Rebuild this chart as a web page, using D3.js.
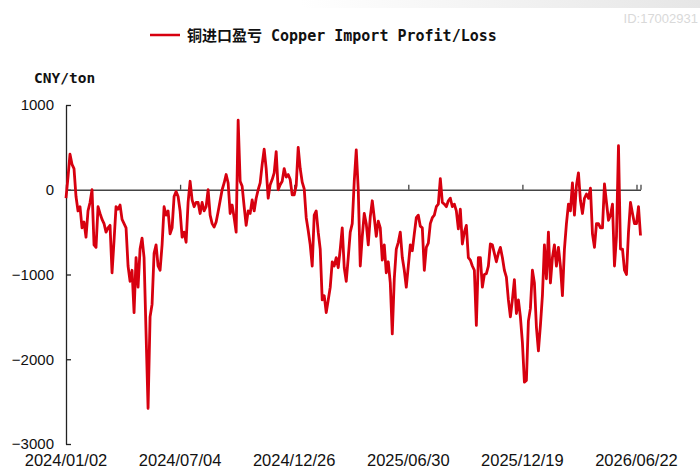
<!DOCTYPE html>
<html>
<head>
<meta charset="utf-8">
<script src="https://cdn.jsdelivr.net/npm/d3@7"></script>
<style>
  body { margin: 0; background: #fff; }
  .tick text { font-family: "Liberation Sans", Arial, sans-serif; fill: #111; }
</style>
</head>
<body>
<div class="chart"></div>
<script>
// series label and unit
var seriesName = "铜进口盈亏 Copper Import Profit/Loss";
var unitLabel = "CNY/ton";

// x tick labels (one every 57 points)
var xLabels = ["2024/01/02", "2024/07/04", "2024/12/26", "2025/06/30", "2025/12/19", "2026/06/22"];
var labelStep = 57;

var yTicks = [-3000, -2000, -1000, 0, 1000];

// copper import profit/loss, CNY/ton
var values = [
  -100, 150, 420, 300, 250, -80, -250, -200, -450, -380,
  -560, -250, -150, 0, -650, -680, -200, -280, -350, -400,
  -500, -450, -420, -980, -600, -200, -230, -180, -350, -400,
  -450, -900, -1080, -950, -1450, -800, -1150, -700, -570, -800,
  -1700, -2580, -1500, -1350, -750, -650, -900, -950, -650, -200,
  -300, -250, -520, -450, -80, -20, -80, -250, -560, -500,
  -620, -150, 100, -120, -200, -150, -150, -280, -150, -250,
  -200, 0, -300, -400, -440, -380, -260, -130, 0, 80,
  180, 80, -280, -180, -330, -500, 820, 100, 40, -200,
  -420, -250, -280, -120, -250, -100, 0, 80, 300, 480,
  250, -100, 60, 120, 200, 450, 0, 60, 100, 250,
  150, 180, 120, -60, -60, 50, 500, 250, 90, 10,
  -330, -480, -650, -900, -300, -250, -500, -700, -1300, -1250,
  -1450, -1300, -1150, -850, -900, -800, -920, -700, -450, -920,
  -1080, -800, -500, -400, 100, 470, 0, -900, -550, -280,
  -400, -650, -320, -130, -330, -550, -370, -450, -830, -650,
  -980, -850, -1100, -1700, -1050, -700, -620, -500, -800, -950,
  -1150, -900, -650, -720, -520, -330, -300, -430, -450, -950,
  -680, -630, -400, -330, -300, -200, -170, 130, -150, -170,
  -200, -130, -100, -200, -170, -250, -460, -230, -640, -500,
  -420, -800, -830, -900, -950, -1600, -800, -800, -1150, -1000,
  -990, -900, -640, -650, -750, -850, -750, -680, -800, -950,
  -1030, -1300, -1500, -1300, -1060, -1460, -1300, -1500, -1800, -2270,
  -2250, -1550, -1400, -950, -1100, -1620, -1900, -1600, -1250, -650,
  -1050, -500, -1100, -800, -650, -900, -680, -900, -1250, -700,
  -400, -170, -250, 80, -300, 50, 200, -130, -280, -100,
  -50, -100, 20, -520, -680, -400, -400, -450, -450, 70,
  -150, -360, -300, -170, -900, -550, 520, -700, -700, -950,
  -1000, -500, -150, -280, -400, -400, -200, -540
];

var svgWidth = 700;
var svgHeight = 470;

var svg = d3.select(".chart")
  .append("svg")
  .attr("width", svgWidth)
  .attr("height", svgHeight);

// faint grey band at the top right
var grad = svg.append("defs").append("linearGradient")
  .attr("id", "topfade");
grad.append("stop").attr("offset", "0%").attr("stop-color", "#fff");
grad.append("stop").attr("offset", "100%").attr("stop-color", "#e6e6e6");
svg.append("rect")
  .attr("x", 300).attr("y", 0)
  .attr("width", 400).attr("height", 8)
  .attr("fill", "url(#topfade)");

svg.append("text")
  .attr("x", 698).attr("y", 23)
  .attr("text-anchor", "end")
  .style("font-family", "Liberation Sans, Arial, sans-serif")
  .style("font-size", "13px")
  .attr("fill", "#d9d9d9")
  .text("ID:17002931");

// scales
var xScale = d3.scaleLinear()
  .domain([0, values.length - 1])
  .range([66, 640.5]);

var yScale = d3.scaleLinear()
  .domain([-3000, 1000])
  .range([444, 105]);

// y axis, ticks pointing inward
var leftAxis = d3.axisLeft(yScale)
  .tickValues(yTicks)
  .tickSizeInner(-5)
  .tickSizeOuter(0)
  .tickPadding(12)
  .tickFormat(d3.format("d"));

var yAxisG = svg.append("g")
  .attr("transform", "translate(66,0)")
  .call(leftAxis);
yAxisG.select(".domain").attr("stroke", "#222").attr("stroke-width", 1.3);
yAxisG.selectAll(".tick line").attr("stroke", "#222").attr("stroke-width", 1.3);
yAxisG.selectAll(".tick text")
  .style("font-size", "15px")
  .text(d => d < 0 ? "\u2212" + Math.abs(d) : d);

// x axis sits on the zero line, ticks pointing up
var tickIdx = xLabels.map((d, i) => i * labelStep);
var bottomAxis = d3.axisBottom(xScale)
  .tickValues(tickIdx.concat([values.length - 1]))
  .tickSizeInner(-5)
  .tickSizeOuter(0)
  .tickFormat(() => "");

var xAxisG = svg.append("g")
  .attr("transform", `translate(0, ${yScale(0)})`)
  .call(bottomAxis);
xAxisG.select(".domain").attr("stroke", "#444").attr("stroke-width", 1.3);
xAxisG.selectAll(".tick line").attr("stroke", "#444").attr("stroke-width", 1.3);

// date labels along the bottom
svg.append("g")
  .selectAll("text")
  .data(xLabels)
  .enter()
  .append("text")
  .attr("x", (d, i) => xScale(tickIdx[i]))
  .attr("y", 466)
  .attr("text-anchor", "middle")
  .style("font-family", "Liberation Sans, Arial, sans-serif")
  .style("font-size", "16.5px")
  .attr("fill", "#111")
  .text(d => d);

// the series line
var line = d3.line()
  .x((d, i) => xScale(i))
  .y(d => yScale(d));

svg.append("path")
  .datum(values)
  .attr("fill", "none")
  .attr("stroke", "#d7000f")
  .attr("stroke-width", 2.8)
  .attr("stroke-linejoin", "round")
  .attr("d", line);

// unit label
svg.append("text")
  .attr("x", 34).attr("y", 83)
  .style("font-family", "DejaVu Sans Mono, Noto Sans CJK SC, monospace")
  .style("font-size", "14.5px")
  .style("font-weight", "bold")
  .attr("fill", "#111")
  .text(unitLabel);

// legend
svg.append("line")
  .attr("x1", 150).attr("x2", 180)
  .attr("y1", 35).attr("y2", 35)
  .attr("stroke", "#d7000f")
  .attr("stroke-width", 2.5);

svg.append("text")
  .attr("x", 187).attr("y", 41)
  .style("font-family", "DejaVu Sans Mono, Noto Sans CJK SC, monospace")
  .style("font-size", "15px")
  .style("font-weight", "bold")
  .attr("fill", "#111")
  .text(seriesName);
</script>
</body>
</html>
